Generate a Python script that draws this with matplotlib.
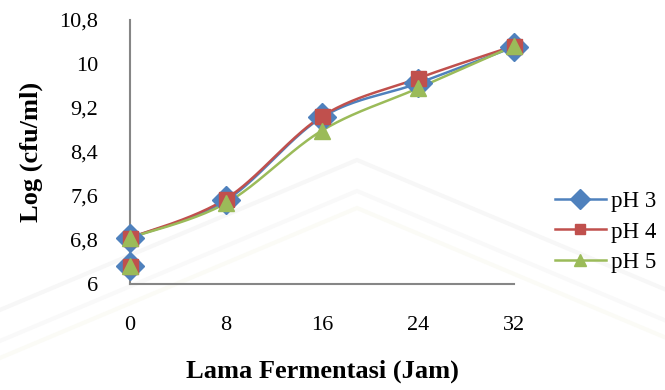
import numpy as np
import matplotlib
matplotlib.use("Agg")
import matplotlib.pyplot as plt
from matplotlib.lines import Line2D
from matplotlib.ticker import FuncFormatter

plt.rcParams['font.family'] = ['Liberation Serif', 'DejaVu Serif']

jam = [0, 8, 16, 24, 32]
ph3 = [6.84, 7.52, 9.03, 9.65, 10.31]
ph4 = [6.84, 7.55, 9.05, 9.74, 10.33]
ph5 = [6.84, 7.47, 8.79, 9.56, 10.33]
# nilai awal kedua pada jam ke-0
awal = [6.33, 6.33, 6.33]
labels = ['pH 3', 'pH 4', 'pH 5']


def smooth(x, y, n=40):
    # kurva halus ala Excel (Catmull-Rom)
    p = np.column_stack([x, y]).astype(float)
    p = np.vstack([p[0], p, p[-1]])
    out = []
    t = np.linspace(0, 1, n)[:, None]
    for i in range(1, len(p) - 2):
        p0, p1, p2, p3 = p[i - 1], p[i], p[i + 1], p[i + 2]
        seg = 0.5 * ((2 * p1) + (-p0 + p2) * t + (2 * p0 - 5 * p1 + 4 * p2 - p3) * t ** 2
                     + (-p0 + 3 * p1 - 3 * p2 + p3) * t ** 3)
        out.append(seg)
    out = np.vstack(out)
    return out[:, 0], out[:, 1]


W, H = 665, 390
fig = plt.figure(figsize=(W / 100, H / 100), dpi=100)

# watermark tipis di latar (bentuk chevron)
for top, col in [(160, '#f7f7f7'), (191, '#f9f9f9'), (208, '#fbfbf6')]:
    xs = np.array([0, 357, W])
    ys = np.array([top + 357 * 0.42, top, top + (W - 357) * 0.42])
    fig.add_artist(Line2D(xs / W, 1 - ys / H, color=col, lw=3, zorder=0))

ax = fig.add_axes([0.1955, 0.2718, 0.5775, 0.6769])
ax.set_facecolor('none')

styles = [('#4F81BD', 'D', 14), ('#C0504D', 's', 10.8), ('#9BBB59', '^', 11.5)]
for seri, a0, lab, (c, m, ms) in zip([ph3, ph4, ph5], awal, labels, styles):
    sx, sy = smooth(jam, seri)
    ax.plot(sx, sy, color=c, lw=1.8, zorder=2)
    ax.plot(jam, seri, ls='none', marker=m, ms=ms, color=c, mec=c, clip_on=False, zorder=3)
    ax.plot([jam[0]], [a0], ls='none', marker=m, ms=ms, color=c, mec=c, clip_on=False, zorder=3)
    ax.plot([], [], color=c, lw=1.8, marker=m, ms=ms * 0.72, mec=c, label=lab)

ax.set_xlim(0, 32)
ax.set_ylim(6, 10.8)
ax.set_xticks(jam)
ax.set_yticks([6, 6.8, 7.6, 8.4, 9.2, 10, 10.8])
ax.yaxis.set_major_formatter(FuncFormatter(lambda v, _: ('%g' % round(v, 1)).replace('.', ',')))
ax.tick_params(length=0, labelsize=16, pad=23)
for s in ['top', 'right']:
    ax.spines[s].set_visible(False)
for s in ['left', 'bottom']:
    ax.spines[s].set_color('#868686')
    ax.spines[s].set_linewidth(1.5)

ax.set_xlabel('Lama Fermentasi (Jam)', fontsize=19, fontweight='bold', labelpad=18)
ax.set_ylabel('Log (cfu/ml)', fontsize=19, fontweight='bold', labelpad=12)

ax.legend(loc='center left', bbox_to_anchor=(546 / W, 1 - 232 / H), bbox_transform=fig.transFigure,
          frameon=False, fontsize=16.5, handlelength=2.2, handletextpad=0.25, labelspacing=0.42,
          borderaxespad=0)

fig.savefig('out.png', dpi=100)
